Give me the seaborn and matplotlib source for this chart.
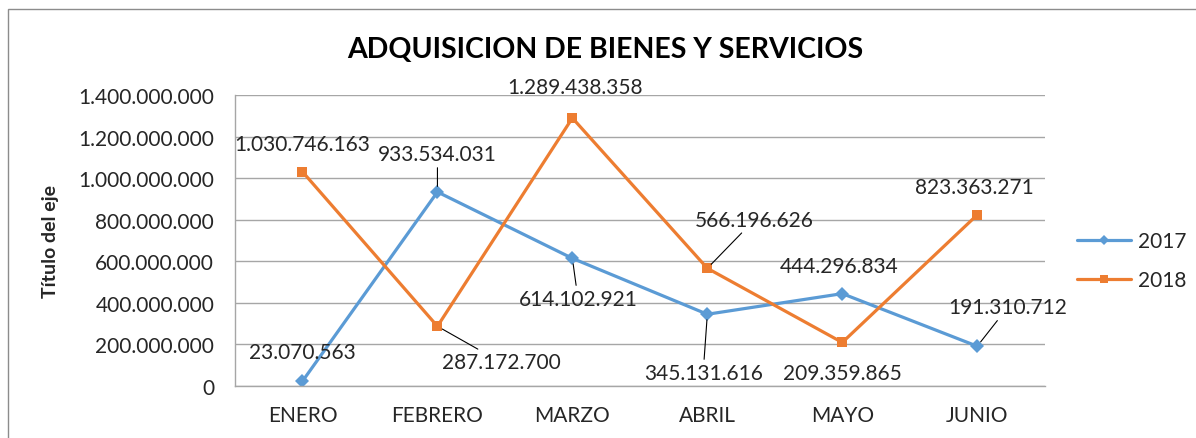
import pandas as pd
import numpy as np
import matplotlib.pyplot as plt
import matplotlib.ticker as mticker
from matplotlib.patches import Rectangle
import seaborn as sns

# DATA ---------------------------------------------------
meses = ['ENERO', 'FEBRERO', 'MARZO', 'ABRIL', 'MAYO', 'JUNIO']
v2017 = [23070563, 933534031, 614102921, 345131616, 444296834, 191310712]
v2018 = [1030746163, 287172700, 1289438358, 566196626, 209359865, 823363271]

# label offsets in points (dx, dy) and whether a leader line is drawn
off2017 = [(0, 21), (0, 27), (4, -29), (-3, -42), (-2, 20), (22, 28)]
lead2017 = [False, True, True, True, False, True]
off2018 = [(0, 20), (46, -26), (2, 22), (34, 35), (0, -22), (-2, 20)]
lead2018 = [False, True, False, True, False, False]

df = pd.DataFrame({
    'mes': meses * 2,
    'anio': ['2017'] * 6 + ['2018'] * 6,
    'valor': v2017 + v2018})

sns.set_style('white')
plt.rcParams['font.family'] = ['Lato', 'DejaVu Sans']

c17 = '#5B9BD5'
c18 = '#ED7D31'

fig = plt.figure(figsize=(11.96, 4.39), dpi=100)
ax = fig.add_axes([0.1965, 0.1185, 0.677, 0.6628])

sns.lineplot(data=df, x='mes', y='valor', hue='anio', style='anio',
             palette={'2017': c17, '2018': c18},
             markers={'2017': 'D', '2018': 's'}, dashes=False,
             markersize=7, linewidth=2.3, markeredgewidth=0, ax=ax, sort=False)

ax.set_xlim(-0.5, 5.5)
ax.set_ylim(0, 1.4e9)
ax.yaxis.set_major_locator(mticker.MultipleLocator(2e8))
ax.yaxis.set_major_formatter(mticker.FuncFormatter(lambda v, p: f'{int(v):,}'.replace(',', '.')))
ax.grid(axis='y', color='#A6A6A6', lw=1)
ax.set_axisbelow(True)
for s in ['top', 'right']:
    ax.spines[s].set_visible(False)
for s in ['left', 'bottom']:
    ax.spines[s].set_color('#A6A6A6')
    ax.spines[s].set_linewidth(1)
ax.tick_params(axis='both', length=0, labelsize=15, colors='#262626')
ax.tick_params(axis='y', pad=15)
ax.tick_params(axis='x', pad=14)
ax.set_xlabel('')
ax.set_ylabel('Título del eje', fontsize=14, fontweight='bold', labelpad=14)

def fmt(v):
    return f'{v:,}'.replace(',', '.')

for vals, offs, leads in [(v2017, off2017, lead2017), (v2018, off2018, lead2018)]:
    for i, v in enumerate(vals):
        dx, dy = offs[i]
        ap = dict(arrowstyle='-', color='black', lw=0.8, shrinkA=0, shrinkB=4) if leads[i] else None
        ax.annotate(fmt(v), xy=(i, v), xytext=(dx, dy), textcoords='offset points',
                    ha='center', va='center', fontsize=15, color='#262626',
                    arrowprops=ap, annotation_clip=False)

leg = ax.legend(loc='center left', bbox_to_anchor=(1.017, 0.43), frameon=False,
                fontsize=15, handlelength=2.6, handletextpad=0.3, labelspacing=0.9,
                markerscale=0.8)
for h in leg.legend_handles:
    h.set_linewidth(2.3)

fig.suptitle('ADQUISICION DE BIENES Y SERVICIOS', x=0.506, y=0.915,
             fontsize=20.5, fontweight='bold', color='black')

fig.patches.append(Rectangle((8 / 1196, -0.1), 1.2, (439 - 10) / 439 + 0.1,
                             transform=fig.transFigure, fill=False,
                             edgecolor='#8C8C8C', lw=1))

fig.savefig('out.png', dpi=100)
